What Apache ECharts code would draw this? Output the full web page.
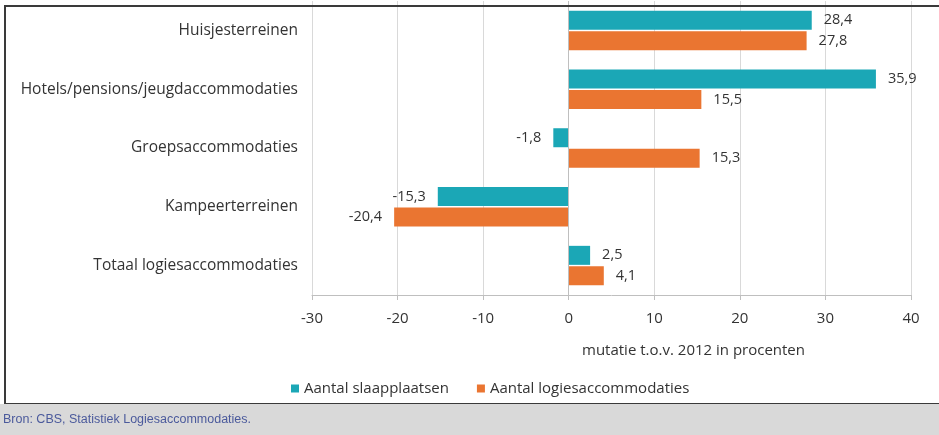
<!DOCTYPE html>
<html>
<head>
<meta charset="utf-8">
<script src="https://cdn.jsdelivr.net/npm/echarts@6/dist/echarts.min.js"></script>
<style>
  html, body { margin: 0; padding: 0; background: #fff; }
  #chart { width: 939px; height: 435px; }
</style>
</head>
<body>
<div id="chart"></div>
<script>
// categorieen (van boven naar onder)
var categories = ['Huisjesterreinen', 'Hotels/pensions/jeugdaccommodaties', 'Groepsaccommodaties', 'Kampeerterreinen', 'Totaal logiesaccommodaties'];
// mutatie t.o.v. 2012 in procenten
var slaapplaatsen = [28.4, 35.9, -1.8, -15.3, 2.5];
var logiesaccommodaties = [27.8, 15.5, 15.3, -20.4, 4.1];
var seriesNames = ['Aantal slaapplaatsen', 'Aantal logiesaccommodaties'];
var xTicks = { min: -30, max: 40, interval: 10 };

var font = 'Open Sans';
var textColor = '#333333';

function komma(p) {
    return String(p.value).replace('.', ',');
}

function barLabel() {
    return {
        show: true,
        position: 'right',
        distance: 12,
        formatter: komma,
        color: textColor,
        fontFamily: font,
        fontSize: 14.5
    };
}

// negatieve waarden links van de balk
function withLabels(values) {
    return values.map(function (v) {
        if (v < 0) {
            return { value: v, label: { position: 'left', distance: 12 } };
        }
        return v;
    });
}

var myChart = echarts.init(document.getElementById('chart'));

var option = {
    backgroundColor: '#fff',
    animation: false,
    grid: { left: 312, right: 28, top: 1, bottom: 140 },
    legend: {
        data: seriesNames,
        left: 286,
        top: 376,
        icon: 'rect',
        itemWidth: 8,
        itemHeight: 8,
        itemGap: 28,
        textStyle: { color: textColor, fontFamily: font, fontSize: 15 }
    },
    xAxis: {
        type: 'value',
        min: xTicks.min,
        max: xTicks.max,
        interval: xTicks.interval,
        axisLine: { show: true, lineStyle: { color: '#bfbfbf' } },
        axisTick: { show: true, length: 5, lineStyle: { color: '#bfbfbf' } },
        axisLabel: { color: textColor, fontFamily: font, fontSize: 15, margin: 16 },
        splitLine: { show: true, lineStyle: { color: '#d9d9d9' } }
    },
    yAxis: {
        type: 'category',
        data: categories,
        inverse: true,
        axisLine: { show: false },
        axisTick: { show: false },
        axisLabel: { color: textColor, fontFamily: font, fontSize: 15.5, margin: 14 }
    },
    series: [
        {
            name: seriesNames[0],
            type: 'bar',
            data: withLabels(slaapplaatsen),
            barWidth: 19,
            barGap: '8%',
            itemStyle: { color: '#1ba7b6' },
            label: barLabel(),
            markLine: {
                silent: true,
                symbol: 'none',
                label: { show: false },
                lineStyle: { color: '#bfbfbf', type: 'solid', width: 1 },
                data: [{ xAxis: 0 }]
            }
        },
        {
            name: seriesNames[1],
            type: 'bar',
            data: withLabels(logiesaccommodaties),
            barWidth: 19,
            itemStyle: { color: '#ea7531' },
            label: barLabel()
        }
    ],
    graphic: [
        // kader
        {
            type: 'rect',
            shape: { x: 5, y: 6, width: 960, height: 398 },
            style: { fill: 'none', stroke: '#3a3a3a', lineWidth: 2 },
            z: 10
        },
        // bronvermelding
        {
            type: 'rect',
            shape: { x: 0, y: 404, width: 939, height: 31 },
            style: { fill: '#d9d9d9' },
            z: 11
        },
        {
            type: 'text',
            left: 3,
            top: 413,
            style: { text: 'Bron: CBS, Statistiek Logiesaccommodaties.', fill: '#4b5a9c', font: '12.5px Liberation Sans' },
            z: 12
        },
        // asnaam
        {
            type: 'text',
            left: 582,
            top: 343,
            style: { text: 'mutatie t.o.v. 2012 in procenten', fill: textColor, font: '15px "Open Sans"' },
            z: 12
        }
    ]
};

myChart.setOption(option);
</script>
</body>
</html>
